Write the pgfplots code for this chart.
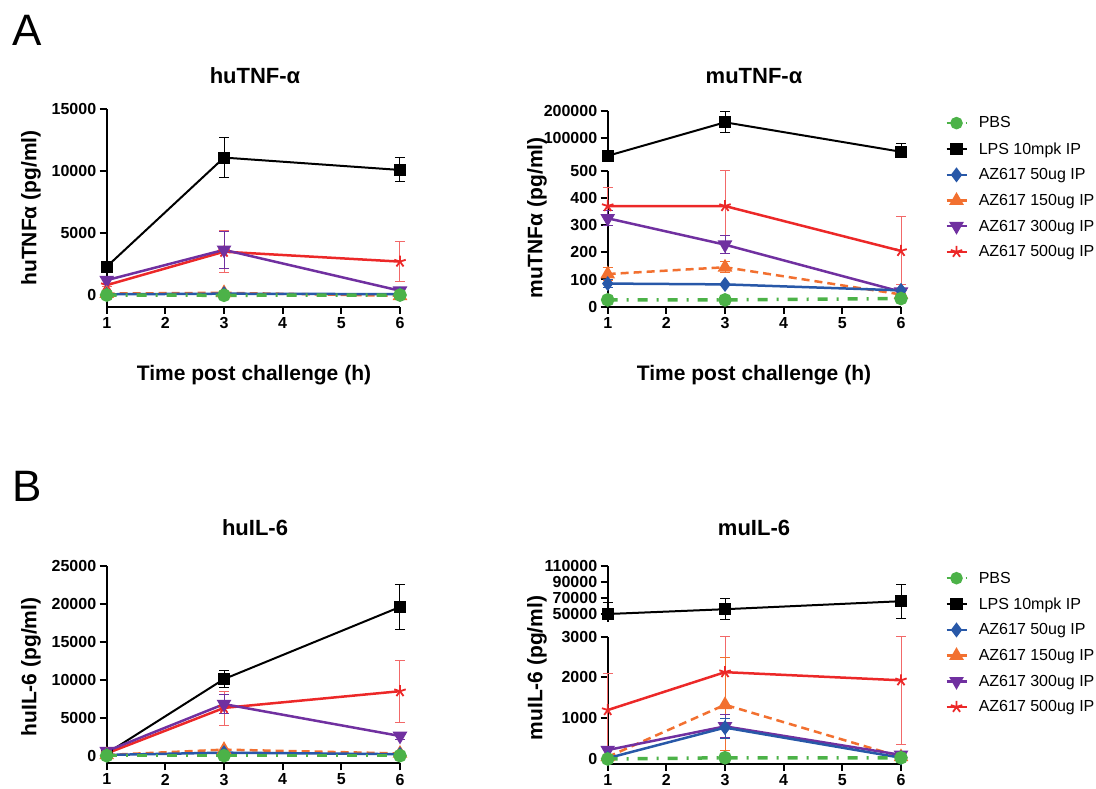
\documentclass[border=0pt]{standalone}
\usepackage{fontspec}
\setmainfont{Liberation Sans}
\usepackage{pgfplots}
\pgfplotsset{compat=1.18}

\definecolor{cPBS}{RGB}{76,178,72}
\definecolor{c50}{RGB}{40,88,168}
\definecolor{c150}{RGB}{242,112,48}
\definecolor{c300}{RGB}{112,48,160}
\definecolor{c500}{RGB}{236,40,40}

\pgfplotsset{
  panel/.style={
    scale only axis, width=293.3pt, clip=false,
    xmin=1, xmax=6, xtick={1,...,6},
    tick align=outside, major tick length=7pt,
    axis line style={line width=2pt, -},
    tick style={line width=2pt, black},
    tick label style={font=\bfseries\fontsize{16}{16}\selectfont},
    /pgf/number format/assume math mode=true,
    /pgf/number format/fixed,
    /pgf/number format/1000 sep={},
    scaled y ticks=false,
    error bars/y dir=both, error bars/y explicit,
    error bars/error bar style={line width=1pt, solid},
    error bars/error mark options={rotate=90, mark size=5pt, line width=1pt, solid},
  },
  lowpanel/.style={panel, axis x line*=bottom, axis y line*=left},
  uppanel/.style={panel, axis x line=none, axis y line*=left},
  sPBS/.style={color=cPBS, line width=3.5pt, dash pattern=on 10pt off 9pt on 2pt off 9pt,
    mark=*, mark size=5pt, mark options={solid}},
  sLPS/.style={black, line width=2pt, mark=square*, mark size=5pt, mark options={solid}},
  s50/.style={c50, line width=2.5pt, mark=diamond*, mark size=5.5pt, mark options={solid}},
  s150/.style={c150, line width=2.5pt, dash pattern=on 8pt off 5pt,
    mark=triangle*, mark size=6pt, mark options={solid}},
  s300/.style={c300, line width=2.5pt, mark=triangle*, mark size=6pt,
    mark options={solid, rotate=180}},
  s500/.style={c500, line width=2.5pt, mark=star, mark size=6pt,
    mark options={solid, line width=1.8pt},
    error bars/error bar style={line width=1pt, solid, c500!70}},
  leg/.style={
    legend cell align=left,
    legend image code/.code={\draw[mark repeat=2, mark phase=2, ##1, line width=2.5pt]
      plot coordinates {(0pt,0pt) (10pt,0pt) (20pt,0pt)};},
    legend style={draw=none, fill=none, font=\fontsize{16}{16}\selectfont,
      anchor=north west, row sep=9pt,
      /tikz/every odd column/.append style={column sep=9pt}},
  },
}
\newcommand{\lab}[1]{\bfseries\fontsize{21}{21}\selectfont #1}

\begin{document}
\begin{tikzpicture}
\useasboundingbox (0pt,0pt) rectangle (1096pt,789pt);

% panel letters and titles
\node[font=\fontsize{44}{44}\selectfont] at (27pt,759pt) {A};
\node[font=\fontsize{44}{44}\selectfont] at (27pt,303pt) {B};
\node[font=\bfseries\fontsize{22}{22}\selectfont] at (255pt,713pt) {huTNF-α};
\node[font=\bfseries\fontsize{22}{22}\selectfont] at (754pt,713pt) {muTNF-α};
\node[font=\bfseries\fontsize{22}{22}\selectfont] at (255pt,261pt) {huIL-6};
\node[font=\bfseries\fontsize{22}{22}\selectfont] at (754pt,261pt) {muIL-6};
\node at (254pt,414pt) {\lab{Time post challenge (h)}};
\node at (754pt,414pt) {\lab{Time post challenge (h)}};
\node[rotate=90] at (31pt,581pt) {\lab{huTNFα (pg/ml)}};
\node[rotate=90] at (537pt,571pt) {\lab{muTNFα (pg/ml)}};
\node[rotate=90] at (31pt,122pt) {\lab{huIL-6 (pg/ml)}};
\node[rotate=90] at (537pt,121pt) {\lab{muIL-6 (pg/ml)}};

% ---- huTNF-alpha
\begin{axis}[lowpanel, at={(106.7pt,482.3pt)}, anchor=south west, height=197.4pt,
  ymin=-940, ymax=15000, ytick={0,5000,10000,15000}]
\addplot[sLPS] coordinates {(1,2290) +- (0,200) (3,11100) +- (0,1600) (6,10100) += (0,1000) -= (0,900)};
\addplot[s500] coordinates {(1,800) +- (0,100) (3,3500) += (0,1700) -= (0,1700) (6,2700) +- (0,1600)};
\addplot[s300] coordinates {(1,1200) +- (0,300) (3,3650) += (0,1450) -= (0,1500) (6,350) +- (0,200)};
\addplot[s150] coordinates {(1,120) (3,180) (6,-60)};
\addplot[s50] coordinates {(1,60) (3,110) (6,70)};
\addplot[sPBS] coordinates {(1,0) (3,-20) (6,0)};
\end{axis}

% ---- muTNF-alpha, lower part
\begin{axis}[lowpanel, at={(607.7pt,482.3pt)}, anchor=south west, height=136pt,
  ymin=0, ymax=500, ytick={0,100,...,500}]
\addplot[s500] coordinates {(1,370) +- (0,70) (3,370) += (0,130) -= (0,130) (6,205) +- (0,125)};
\addplot[s300] coordinates {(1,325) +- (0,28) (3,228) +- (0,33) (6,55) +- (0,10)};
\addplot[s150] coordinates {(1,120) +- (0,25) (3,145) +- (0,20) (6,45) +- (0,5)};
\addplot[s50] coordinates {(1,85) +- (0,15) (3,82) +- (0,4) (6,60) +- (0,5)};
\addplot[sPBS] coordinates {(1,25) (3,25) (6,30)};
\end{axis}

% ---- muTNF-alpha, upper part with legend
\begin{axis}[uppanel, at={(607.7pt,631pt)}, anchor=south west, height=47.3pt,
  ymin=25000, ymax=200000, ytick={100000,200000}, leg,
  legend style={at={(1.14,0.96)}}]
\addlegendimage{sPBS}
\addlegendentry{PBS}
\addplot[sLPS] coordinates {(1,33000) +- (0,3000) (3,157000) +- (0,39000) (6,48000) += (0,30000) -= (0,8000)};
\addlegendentry{LPS 10mpk IP}
\addlegendimage{s50}
\addlegendentry{AZ617 50ug IP}
\addlegendimage{s150}
\addlegendentry{AZ617 150ug IP}
\addlegendimage{s300}
\addlegendentry{AZ617 300ug IP}
\addlegendimage{s500}
\addlegendentry{AZ617 500ug IP}
\end{axis}

% ---- huIL-6
\begin{axis}[lowpanel, at={(106.7pt,25.7pt)}, anchor=south west, height=197.3pt,
  ymin=-1000, ymax=25000, ytick={0,5000,...,25000}]
\addplot[sLPS] coordinates {(1,300) (3,10100) +- (0,1100) (6,19600) +- (0,3000)};
\addplot[s500] coordinates {(1,300) (3,6300) += (0,2200) -= (0,2300) (6,8500) +- (0,4100)};
\addplot[s300] coordinates {(1,600) +- (0,300) (3,6800) +- (0,1200) (6,2600) +- (0,400)};
\addplot[s150] coordinates {(1,100) (3,800) (6,300)};
\addplot[s50] coordinates {(1,100) (3,400) (6,200)};
\addplot[sPBS] coordinates {(1,0) (3,0) (6,0)};
\end{axis}

% ---- muIL-6, lower part
\begin{axis}[lowpanel, at={(607.7pt,25pt)}, anchor=south west, height=127.3pt,
  ymin=-123, ymax=3000, ytick={0,1000,2000,3000}]
\addplot[s500] coordinates {(1,1200) += (0,900) -= (0,1200) (3,2130) += (0,870) -= (0,900) (6,1930) += (0,1070) -= (0,1580)};
\addplot[s150] coordinates {(1,50) (3,1330) += (0,1150) -= (0,1130) (6,50)};
\addplot[s300] coordinates {(1,220) (3,800) +- (0,280) (6,100)};
\addplot[s50] coordinates {(1,20) (3,770) += (0,230) -= (0,270) (6,30)};
\addplot[sPBS] coordinates {(1,0) (3,30) (6,30)};
\end{axis}

% ---- muIL-6, upper part with legend
\begin{axis}[uppanel, at={(607.7pt,167.3pt)}, anchor=south west, height=55.7pt,
  ymin=40400, ymax=110000, ytick={50000,70000,90000,110000}, leg,
  legend style={at={(1.14,0.97)}}]
\addlegendimage{sPBS}
\addlegendentry{PBS}
\addplot[sLPS] coordinates {(1,50000) += (0,15000) -= (0,5000) (3,56000) += (0,14000) -= (0,13000) (6,66000) +- (0,21000)};
\addlegendentry{LPS 10mpk IP}
\addlegendimage{s50}
\addlegendentry{AZ617 50ug IP}
\addlegendimage{s150}
\addlegendentry{AZ617 150ug IP}
\addlegendimage{s300}
\addlegendentry{AZ617 300ug IP}
\addlegendimage{s500}
\addlegendentry{AZ617 500ug IP}
\end{axis}
\end{tikzpicture}
\end{document}
